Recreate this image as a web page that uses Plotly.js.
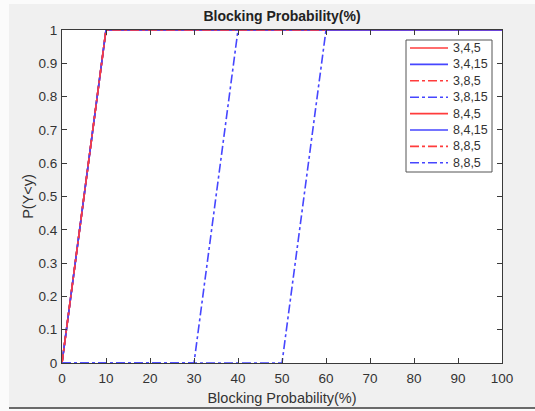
<!DOCTYPE html>
<html>
<head>
<meta charset="utf-8">
<script src="https://cdn.plot.ly/plotly-3.0.1.min.js"></script>
<style>
  html, body { margin: 0; padding: 0; background: #fbfbfb; width: 535px; height: 411px; overflow: hidden; }
  #plot { position: absolute; left: 9px; top: 4px; width: 526px; height: 404px; }
  #bar { position: absolute; left: 9px; top: 407px; width: 526px; height: 2px; background: #6a6a6a; }
</style>
</head>
<body>
<div id="plot"></div>
<div id="bar"></div>
<script>
// Series names (legend labels)
var seriesNames = ["3,4,5", "3,4,15", "3,8,5", "3,8,15", "8,4,5", "8,4,15", "8,8,5", "8,8,5"];
// Blocking probability (%) breakpoints and CDF values for each series
var xFast = [0, 10, 100];
var yFast = [0, 1, 1];
var xMid = [0, 30, 40, 100];
var yMid = [0, 0, 1, 1];
var xSlow = [0, 50, 60, 100];
var ySlow = [0, 0, 1, 1];
var seriesX = [xFast, xFast, xFast, xMid, xFast, xFast, xFast, xSlow];
var seriesY = [yFast, yFast, yFast, yMid, yFast, yFast, yFast, ySlow];
var xTicks = [0, 10, 20, 30, 40, 50, 60, 70, 80, 90, 100];
var yTicks = [0, 0.1, 0.2, 0.3, 0.4, 0.5, 0.6, 0.7, 0.8, 0.9, 1];

var red = "rgb(255,60,60)";
var blue = "rgb(70,70,255)";
var colors = [red, blue, red, blue, red, blue, red, blue];
var dashes = ["solid", "solid", "dashdot", "dashdot", "solid", "solid", "dashdot", "dashdot"];

var traces = seriesNames.map(function (n, i) {
  return {
    x: seriesX[i], y: seriesY[i], name: n, type: "scatter", mode: "lines",
    showlegend: false,
    line: { color: colors[i], width: 1.6, dash: dashes[i] }
  };
});

var font = "Liberation Sans, Arial, Helvetica, sans-serif";

// Plot area geometry (in pixels of the plot div) used to place the legend box
var M = { l: 53, r: 33, t: 26, b: 45 }, W = 526, H = 404;
var PW = W - M.l - M.r, PH = H - M.t - M.b;
function px(x) { return (x - M.l) / PW; }          // div x -> paper
function py(y) { return (H - M.b - y) / PH; }      // div y -> paper

// Legend box (MATLAB style) in div pixels
var lgL = 397, lgR = 483, lgT = 36, lgB = 168, row0 = 44, rowH = 16.4;
var shapes = [{
  type: "rect", xref: "paper", yref: "paper", layer: "above",
  x0: px(lgL), x1: px(lgR), y0: py(lgB), y1: py(lgT),
  line: { color: "#555", width: 1 }, fillcolor: "#ffffff"
}];
var annotations = [];
seriesNames.forEach(function (n, i) {
  var yy = py(row0 + i * rowH);
  shapes.push({
    type: "line", xref: "paper", yref: "paper", layer: "above",
    x0: px(lgL + 4), x1: px(lgL + 42), y0: yy, y1: yy,
    line: { color: colors[i], width: 1.6, dash: dashes[i] }
  });
  annotations.push({
    xref: "paper", yref: "paper", x: px(lgL + 45), y: yy, xanchor: "left", yanchor: "middle",
    text: n, showarrow: false, font: { family: font, size: 12.5, color: "#333" }
  });
});

var axisCommon = {
  showgrid: false, zeroline: false, showline: true, linecolor: "#3a3a3a", linewidth: 1,
  mirror: "ticks", ticks: "inside", ticklen: 5, tickwidth: 1, tickcolor: "#3a3a3a",
  tickfont: { family: font, size: 13.5, color: "#333" }, fixedrange: true
};

var layout = {
  width: W, height: H,
  margin: M,
  paper_bgcolor: "#f0f0f0", plot_bgcolor: "#ffffff",
  title: { text: "<b>Blocking Probability(%)</b>", font: { family: font, size: 14, color: "#222" },
           x: 0.5, xref: "paper", y: 1, yref: "container", yanchor: "top", pad: { t: 7 } },
  xaxis: Object.assign({}, axisCommon, {
    range: [0, 100], tickvals: xTicks, ticklabelstandoff: 3,
    title: { text: "Blocking Probability(%)", font: { family: font, size: 14.5, color: "#333" }, standoff: 7 }
  }),
  yaxis: Object.assign({}, axisCommon, {
    range: [0, 1], tickvals: yTicks, ticklabelstandoff: 1,
    title: { text: "P(Y<y)", font: { family: font, size: 14.5, color: "#333" }, standoff: 1 }
  }),
  showlegend: false,
  shapes: shapes,
  annotations: annotations
};

Plotly.newPlot("plot", traces, layout, { displayModeBar: false, staticPlot: true });
</script>
</body>
</html>
